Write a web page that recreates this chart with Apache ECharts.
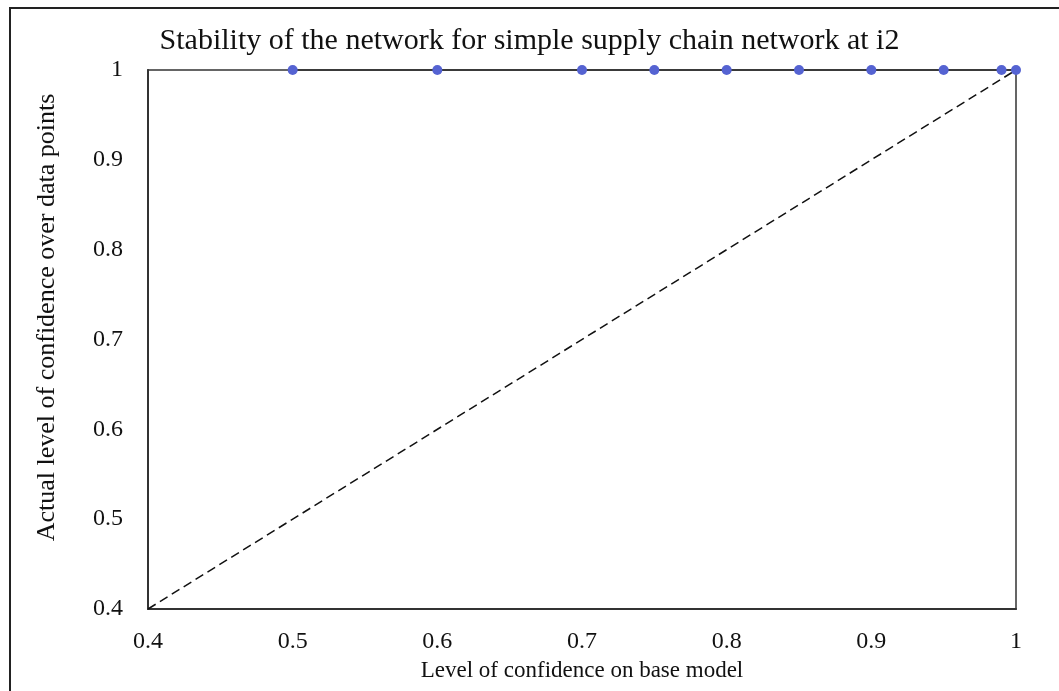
<!DOCTYPE html>
<html>
<head>
<meta charset="utf-8">
<script src="https://cdn.jsdelivr.net/npm/echarts@6/dist/echarts.min.js"></script>
<style>
html,body{margin:0;padding:0;background:#fff;}
#c{width:1059px;height:691px;}
</style>
</head>
<body>
<div id="c"></div>
<script>
const titleText = 'Stability of the network for simple supply chain network at i2';
const xName = 'Level of confidence on base model';
const yName = 'Actual level of confidence over data points';
const baseConfidence = [0.5, 0.6, 0.7, 0.75, 0.8, 0.85, 0.9, 0.95, 0.99, 1];
const actualConfidence = [1, 1, 1, 1, 1, 1, 1, 1, 1, 1];
const refX = [0.4, 1];
const refY = [0.4, 1];

const font = '"Liberation Serif", "Times New Roman", serif';
const chart = echarts.init(document.getElementById('c'));
chart.setOption({
  backgroundColor: '#fff',
  animation: false,
  title: {
    text: titleText, left: 'center', top: 21,
    textStyle: {fontFamily: font, fontSize: 30, fontWeight: 'normal', color: '#111'}
  },
  graphic: [{
    type: 'rect', shape: {x: 10, y: 8, width: 1200, height: 800},
    style: {fill: 'none', stroke: '#222', lineWidth: 2}, silent: true
  }],
  grid: {left: 148, right: 43, top: 70, bottom: 82, show: true, borderColor: '#333', borderWidth: 1.5, backgroundColor: 'transparent'},
  xAxis: {
    type: 'value', min: 0.4, max: 1, interval: 0.1,
    name: xName, nameLocation: 'middle', nameGap: 50,
    nameTextStyle: {fontFamily: font, fontSize: 23, color: '#111'},
    axisLine: {show: true, onZero: false, lineStyle: {color: '#333', width: 2}},
    axisTick: {show: false}, splitLine: {show: false},
    axisLabel: {fontFamily: font, fontSize: 24, color: '#111', margin: 21}
  },
  yAxis: {
    type: 'value', min: 0.4, max: 1, interval: 0.1,
    name: yName, nameLocation: 'middle', nameGap: 88, nameRotate: 90,
    nameTextStyle: {fontFamily: font, fontSize: 26, color: '#111', padding: [0, 0, 0, 44]},
    axisLine: {show: true, onZero: false, lineStyle: {color: '#333', width: 2}},
    axisTick: {show: false}, splitLine: {show: false},
    axisLabel: {fontFamily: font, fontSize: 24, color: '#111', margin: 25}
  },
  series: [
    {
      type: 'line', data: refX.map((x, i) => [x, refY[i]]),
      symbol: 'none', clip: false,
      lineStyle: {color: '#111', width: 1.5, type: [9, 5]}
    },
    {
      type: 'line', data: baseConfidence.map((x, i) => [x, actualConfidence[i]]),
      symbol: 'circle', symbolSize: 10, clip: false,
      itemStyle: {color: '#5563d2'},
      lineStyle: {color: '#3a3a3a', width: 2}
    }
  ]
});
</script>
</body>
</html>
